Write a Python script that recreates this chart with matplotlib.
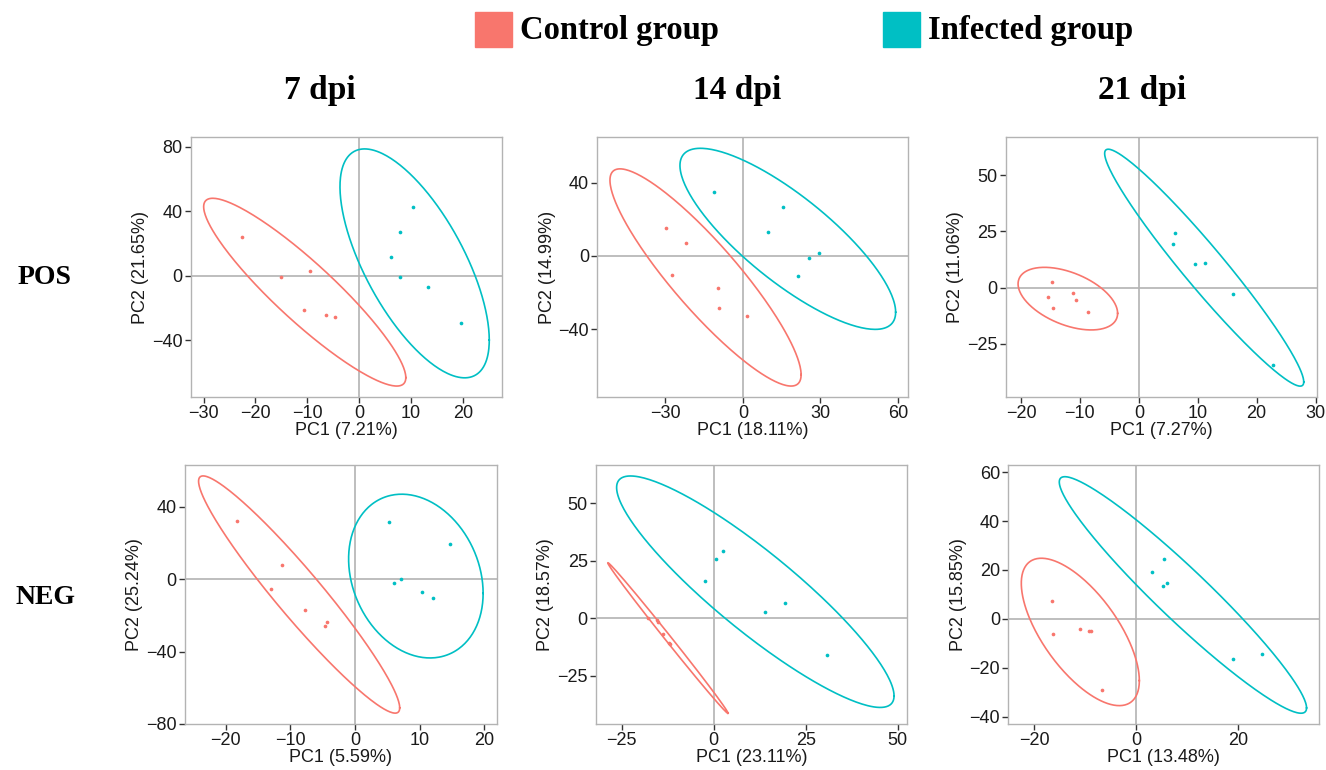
import numpy as np
import matplotlib
matplotlib.use("Agg")
import matplotlib.pyplot as plt
from matplotlib.patches import Rectangle

# panel order: POS 7, POS 14, POS 21, NEG 7, NEG 14, NEG 21
days = ["7 dpi", "14 dpi", "21 dpi"]
modes = ["POS", "NEG"]
groups = ["Control group", "Infected group"]
colors = ["#F8766D", "#00BFC4"]

pc1_pct = ["7.21%", "18.11%", "7.27%", "5.59%", "23.11%", "13.48%"]
pc2_pct = ["21.65%", "14.99%", "11.06%", "25.24%", "18.57%", "15.85%"]

ctrl_x = [
    [-22.6, -15.1, -9.5, -10.7, -6.4, -4.6],
    [-29.9, -22.2, -27.5, -9.6, -9.3, 1.6],
    [-14.8, -15.5, -14.5, -11.2, -10.6, -8.7],
    [-18.2, -11.3, -13.0, -7.8, -4.3, -4.7],
    [-17.8, -15.4, -15.1, -13.9, -11.9, -12.2],
    [-16.5, -16.3, -11.0, -9.3, -8.8, -6.7],
]
ctrl_y = [
    [24.2, -0.8, 2.9, -21.5, -24.6, -25.6],
    [15.5, 7.3, -10.5, -17.6, -28.4, -32.5],
    [2.7, -4.3, -8.9, -2.5, -5.5, -10.7],
    [32.2, 7.6, -5.3, -17.1, -23.8, -26.0],
    [0.3, -0.9, -1.5, -6.8, -11.2, -10.6],
    [7.4, -6.3, -4.2, -4.9, -4.8, -29.0],
]
inf_x = [
    [10.4, 7.8, 6.1, 7.9, 13.2, 19.7],
    [-11.2, 15.4, 9.6, 29.4, 25.4, 21.3],
    [6.2, 5.8, 9.6, 11.3, 16.0, 22.7],
    [5.3, 14.7, 7.1, 6.0, 10.4, 12.1],
    [-2.3, 0.6, 2.4, 14.0, 19.3, 30.8],
    [5.5, 3.1, 6.0, 5.3, 19.0, 24.6],
]
inf_y = [
    [42.8, 27.3, 11.8, -0.8, -6.8, -29.1],
    [34.7, 26.7, 13.1, 1.8, -1.1, -10.7],
    [24.2, 19.6, 10.5, 10.8, -2.7, -34.4],
    [31.9, 19.5, 0.0, -2.2, -6.8, -10.5],
    [16.4, 25.9, 29.1, 2.6, 6.8, -15.7],
    [24.6, 19.1, 14.6, 13.6, -16.3, -14.4],
]

# confidence ellipses: x range, y range, correlation
ctrl_ell = [
    (-30.0, 9.0, -68.4, 48.0, -0.91),
    (-51.5, 22.5, -70.9, 47.5, -0.895),
    (-20.5, -3.6, -18.8, 9.05, -0.47),
    (-24.2, 6.9, -74.0, 57.1, -0.955),
    (-28.8, 3.9, -41.3, 24.2, -0.998),
    (-22.55, 0.6, -35.4, 24.8, -0.66),
]
inf_ell = [
    (-3.7, 25.1, -63.3, 78.6, -0.67),
    (-24.4, 59.1, -40.0, 58.7, -0.81),
    (-5.8, 28.0, -43.8, 61.6, -0.964),
    (-1.0, 19.8, -43.5, 47.0, -0.21),
    (-26.4, 49.0, -38.7, 61.9, -0.90),
    (-15.1, 33.4, -38.5, 58.1, -0.955),
]

xlims = [(-32.5, 27.5), (-56.4, 64.0), (-22.6, 30.2),
         (-26.3, 21.9), (-32.0, 52.6), (-25.1, 35.9)]
ylims = [(-75.0, 85.8), (-76.7, 64.7), (-48.5, 66.9),
         (-80.0, 63.3), (-45.9, 66.8), (-42.9, 63.0)]
xticks = [[-30, -20, -10, 0, 10, 20], [-30, 0, 30, 60], [-20, -10, 0, 10, 20, 30],
          [-20, -10, 0, 10, 20], [-25, 0, 25, 50], [-20, 0, 20]]
yticks = [[-40, 0, 40, 80], [-40, 0, 40], [-25, 0, 25, 50],
          [-80, -40, 0, 40], [-25, 0, 25, 50], [-40, -20, 0, 20, 40, 60]]

# axes boxes in pixels: left, right, top, bottom
boxes = [(190.7, 501.7, 137.3, 396.7), (597.3, 908.3, 137.3, 396.7),
         (1005.7, 1316.7, 137.3, 396.7), (185.0, 496.7, 464.7, 724.0),
         (596.0, 907.3, 464.7, 724.0), (1008.3, 1319.3, 464.7, 724.0)]

W, H = 1326, 770
plt.rcParams['font.family'] = ['Liberation Sans', 'DejaVu Sans']
fig = plt.figure(figsize=(W / 100, H / 100), dpi=100)


def ellipse(p, n=300):
    x0, x1, y0, y1, rho = p
    cx, cy = (x0 + x1) / 2, (y0 + y1) / 2
    a, b = (x1 - x0) / 2, (y1 - y0) / 2
    t = np.linspace(0, 2 * np.pi, n)
    return cx + a * np.cos(t), cy + b * (rho * np.cos(t) + np.sqrt(1 - rho ** 2) * np.sin(t))


grey = "#b3b3b3"
for i in range(6):
    l, r, t, b = boxes[i]
    ax = fig.add_axes([l / W, 1 - b / H, (r - l) / W, (b - t) / H])
    ax.axhline(0, color=grey, lw=1.2, zorder=1)
    ax.axvline(0, color=grey, lw=1.2, zorder=1)
    for xs, ys, ell, c in [(ctrl_x[i], ctrl_y[i], ctrl_ell[i], colors[0]),
                           (inf_x[i], inf_y[i], inf_ell[i], colors[1])]:
        ax.scatter(xs, ys, s=7, color=c, linewidths=0, zorder=3)
        ex, ey = ellipse(ell)
        ax.plot(ex, ey, color=c, lw=1.2, zorder=2)
    ax.set_xlim(*xlims[i])
    ax.set_ylim(*ylims[i])
    ax.set_xticks(xticks[i])
    ax.set_yticks(yticks[i])
    for s in ax.spines.values():
        s.set_color(grey)
        s.set_linewidth(1.0)
    ax.tick_params(labelsize=13, length=4, width=1, color="#333333", labelcolor="#1a1a1a", pad=2)
    ax.set_xlabel("PC1 (" + pc1_pct[i] + ")", fontsize=13, labelpad=0, color="#1a1a1a")
    ax.set_ylabel("PC2 (" + pc2_pct[i] + ")", fontsize=13, labelpad=2, color="#1a1a1a")

serif = ['Liberation Serif', 'DejaVu Serif']
for x0, d in zip([320, 737, 1142], days):
    fig.text(x0 / W, 1 - 90 / H, d, ha="center", va="center",
             fontsize=24, fontweight="bold", family=serif)
for y0, m in zip([278, 597], modes):
    fig.text(45 / W, 1 - y0 / H, m, ha="center", va="center",
             fontsize=20, fontweight="bold", family=serif)

# legend
for g, c, x0 in zip(groups, colors, [475, 883]):
    fig.patches.append(Rectangle((x0 / W, 1 - 47 / H), 37 / W, 35 / H,
                                 transform=fig.transFigure, color=c))
    fig.text((x0 + 45) / W, 1 - 31 / H, g, ha="left", va="center",
             fontsize=23.5, fontweight="bold", family=serif)

fig.savefig("out.png", dpi=100, facecolor="white")
